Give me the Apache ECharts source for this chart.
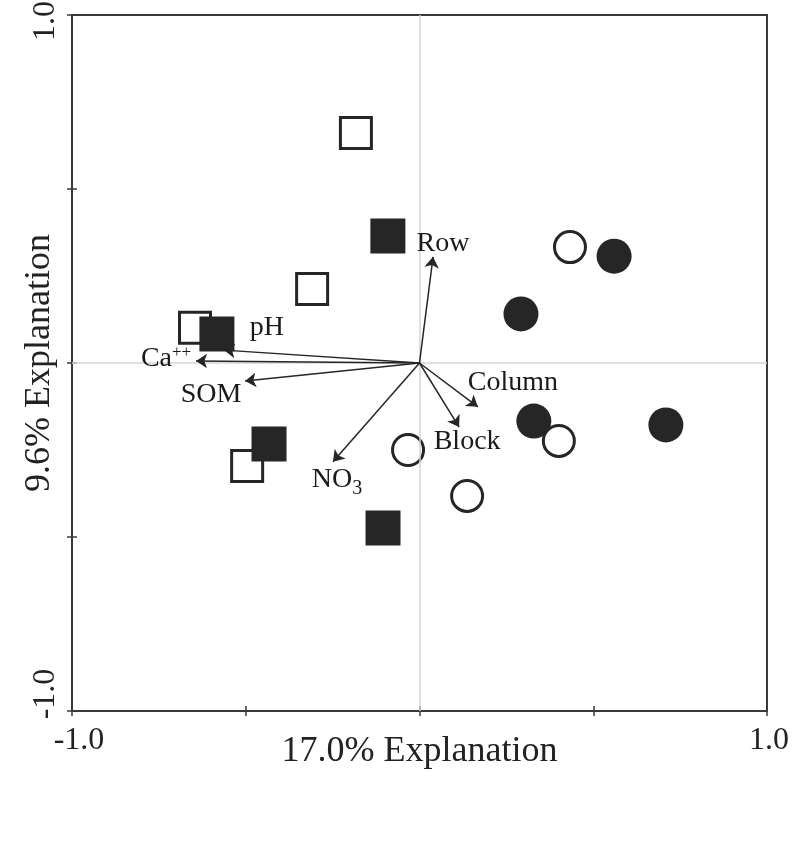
<!DOCTYPE html>
<html>
<head>
<meta charset="utf-8">
<script src="https://cdn.jsdelivr.net/npm/echarts@6/dist/echarts.min.js"></script>
<style>
html,body{margin:0;padding:0;background:#fff;}
#chart{width:800px;height:842px;}
</style>
</head>
<body>
<div id="chart"></div>
<script>
// ---- data ----
const openSquares   = [[-0.183, 0.661], [-0.309, 0.213], [-0.646, 0.101], [-0.496, -0.296]];
const filledSquares = [[-0.091, 0.365], [-0.583, 0.083], [-0.433, -0.233], [-0.105, -0.474]];
const filledCircles = [[0.560, 0.307], [0.292, 0.141], [0.329, -0.167], [0.709, -0.178]];
const openCircles   = [[0.433, 0.333], [-0.033, -0.250], [0.401, -0.224], [0.137, -0.382]];
const vectorNames   = ['Row', 'Column', 'Block', 'pH', 'Ca++', 'SOM', 'NO3'];
const vectorX       = [0.039, 0.168, 0.114, -0.563, -0.643, -0.502, -0.249];
const vectorY       = [0.305, -0.126, -0.184, 0.037, 0.006, -0.052, -0.284];
const xTitle = '17.0% Explanation';
const yTitle = '9.6% Explanation';
const axisMin = -1, axisMax = 1, axisStep = 0.5;

// ---- styles ----
const INK = '#262626';
const FONT = "'Liberation Serif', 'Times New Roman', serif";
// label offsets (pixels) relative to each arrow tip
const labelOffsets = {
  'Row': [10, -13], 'Column': [35, -24], 'Block': [8, 15], 'pH': [43, -22],
  'Ca++': [-30, -2], 'SOM': [-34, 14], 'NO3': [4, 18]
};
const labelText = {
  'Ca++': 'Ca{sup|++}', 'NO3': 'NO{sub|3}'
};

const chart = echarts.init(document.getElementById('chart'), null, {renderer: 'canvas'});

function xEndLabel(v) {
  if (v === axisMin) return '{lo|' + v.toFixed(1) + '}';
  if (v === axisMax) return '{hi|' + v.toFixed(1) + '}';
  return '';
}
function yEndLabel(v) {
  if (v === axisMin) return '{lo|' + v.toFixed(1) + '}';
  if (v === axisMax) return '{hi|' + v.toFixed(1) + '}';
  return '';
}
const tickFont = {fontFamily: FONT, fontSize: 32, color: '#222'};

const baseAxis = {
  type: 'value', min: axisMin, max: axisMax, interval: axisStep,
  splitLine: {show: false}, nameMoveOverlap: false
};

const vectorLines = vectorNames.map((n, i) => ({coords: [[0, 0], [vectorX[i], vectorY[i]]]}));
const vectorTips = vectorNames.map((n, i) => ({
  name: n,
  value: [vectorX[i], vectorY[i]],
  label: {offset: labelOffsets[n]}
}));

const option = {
  backgroundColor: '#fff',
  animation: false,
  grid: {left: 72, right: 33, top: 15, bottom: 131, containLabel: false, outerBoundsMode: 'none',
         show: true, borderColor: '#3a3a3a', borderWidth: 2, backgroundColor: 'transparent'},
  xAxis: [
    Object.assign({}, baseAxis, {
      position: 'bottom',
      axisLine: {show: true, onZero: false, lineStyle: {color: '#3a3a3a', width: 2}},
      axisTick: {show: true, inside: false, length: 5, lineStyle: {color: '#3a3a3a', width: 1.5}},
      axisLabel: {show: true, formatter: xEndLabel, margin: 14, showMinLabel: true, showMaxLabel: true, hideOverlap: false,
        rich: {
          lo: Object.assign({padding: [0, 0, 0, 14]}, tickFont),
          hi: Object.assign({padding: [0, 0, 0, 4]}, tickFont)
        }},
      name: xTitle, nameLocation: 'middle', nameGap: 23,
      nameTextStyle: {fontFamily: FONT, fontSize: 36, color: '#222'}
    }),
    Object.assign({}, baseAxis, {
      position: 'bottom',
      axisLine: {show: false, onZero: false},
      axisTick: {show: true, inside: true, length: 5, lineStyle: {color: '#3a3a3a', width: 1.5}},
      axisLabel: {show: false}
    })
  ],
  yAxis: [
    Object.assign({}, baseAxis, {
      position: 'left',
      axisLine: {show: true, onZero: false, lineStyle: {color: '#3a3a3a', width: 2}},
      axisTick: {show: true, inside: false, length: 5, lineStyle: {color: '#3a3a3a', width: 1.5}},
      axisLabel: {show: true, formatter: yEndLabel, rotate: 90, margin: 10, showMinLabel: true, showMaxLabel: true, hideOverlap: false,
        rich: {
          lo: Object.assign({padding: [0, 0, 0, 34]}, tickFont),
          hi: Object.assign({padding: [0, 12, 0, 0]}, tickFont)
        }},
      name: yTitle, nameLocation: 'middle', nameGap: 14,
      nameTextStyle: {fontFamily: FONT, fontSize: 36, color: '#222'}
    }),
    Object.assign({}, baseAxis, {
      position: 'left',
      axisLine: {show: false, onZero: false},
      axisTick: {show: true, inside: true, length: 5, lineStyle: {color: '#3a3a3a', width: 1.5}},
      axisLabel: {show: false}
    })
  ],
  series: [
    {
      type: 'scatter', name: 'centre', data: [], silent: true,
      markLine: {
        silent: true, symbol: 'none', label: {show: false},
        lineStyle: {color: '#d4d4d4', width: 1.5, type: 'solid', opacity: 1},
        emphasis: {disabled: true},
        data: [{xAxis: 0}, {yAxis: 0}]
      }, z: 1
    },
    {
      type: 'scatter', name: 'open squares', data: openSquares,
      symbol: 'rect', symbolSize: 31,
      itemStyle: {color: '#fff', borderColor: INK, borderWidth: 3, opacity: 1}, z: 3
    },
    {
      type: 'scatter', name: 'filled squares', data: filledSquares,
      symbol: 'rect', symbolSize: 35,
      itemStyle: {color: INK, opacity: 1}, z: 4
    },
    {
      type: 'scatter', name: 'filled circles', data: filledCircles,
      symbol: 'circle', symbolSize: 35,
      itemStyle: {color: INK, opacity: 1}, z: 3
    },
    {
      type: 'scatter', name: 'open circles', data: openCircles,
      symbol: 'circle', symbolSize: 31,
      itemStyle: {color: '#fff', borderColor: INK, borderWidth: 3, opacity: 1}, z: 4
    },
    {
      type: 'lines', coordinateSystem: 'cartesian2d', name: 'vectors',
      data: vectorLines, symbol: ['none', 'arrow'], symbolSize: [1, 11],
      lineStyle: {color: INK, width: 1.5, opacity: 1, curveness: 0}, z: 6
    },
    {
      type: 'scatter', name: 'vector labels', data: vectorTips,
      symbolSize: 0, silent: true, z: 7,
      itemStyle: {opacity: 1, color: INK},
      label: {
        show: true, position: 'inside', opacity: 1,
        formatter: p => labelText[p.name] || p.name,
        fontFamily: FONT, fontSize: 28, color: '#1a1a1a',
        rich: {
          sup: {fontFamily: FONT, fontSize: 17, color: '#1a1a1a', verticalAlign: 'top', padding: [0, 0, 12, 0]},
          sub: {fontFamily: FONT, fontSize: 20, color: '#1a1a1a', verticalAlign: 'bottom', padding: [18, 0, 0, 0]}
        }
      }
    }
  ]
};
chart.setOption(option);
</script>
</body>
</html>
